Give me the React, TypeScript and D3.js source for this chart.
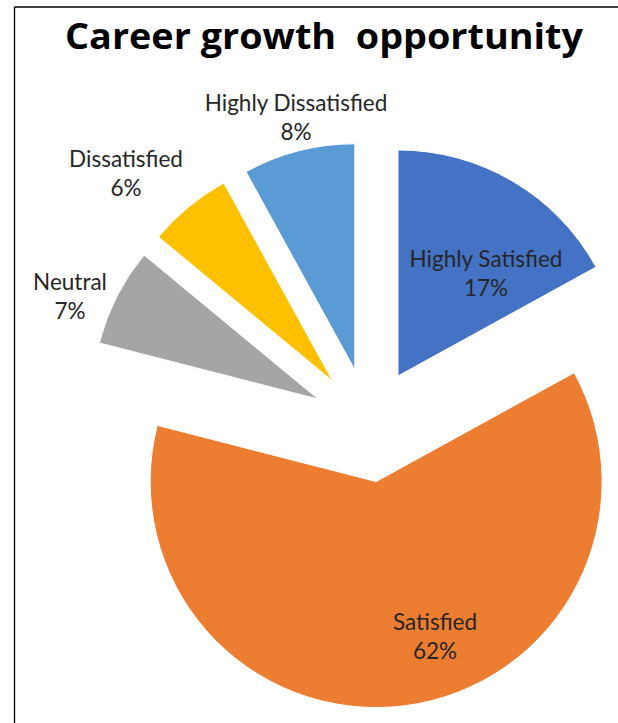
import React from "react";
import * as d3 from "d3";

const categories = ["Highly Satisfied", "Satisfied", "Neutral", "Dissatisfied", "Highly Dissatisfied"];
const values = [17, 62, 7, 6, 8];
const colors = ["#4472C4", "#ED7D31", "#A5A5A5", "#FFC000", "#5B9BD5"];
const title = "Career growth  opportunity";

// label layout (x center, first-line baseline)
const labelPos: [number, number][] = [
  [486, 267],
  [435, 630],
  [70, 290],
  [126, 167],
  [296, 111],
];

const W = 618;
const H = 723;
const cx = 369;
const cy = 425;
const R = 226;
const explode = 57;

export default function App() {
  const pie = d3.pie<number>().sort(null).value((d) => d);
  const arcs = pie(values);
  const arcGen = d3.arc<d3.PieArcDatum<number>>().innerRadius(0).outerRadius(R);
  const total = d3.sum(values);
  const fmt = (v: number) => `${Math.round((v / total) * 100)}%`;

  return (
    <svg
      width={W}
      height={H}
      style={{ position: "absolute", left: 0, top: 0, background: "#fff" }}
      fontFamily="Lato, 'Open Sans', sans-serif"
    >
      <rect x={0} y={0} width={W} height={H} fill="#fff" />
      <line x1={14.5} y1={7} x2={W} y2={7} stroke="#000" strokeWidth={1.3} />
      <line x1={14.5} y1={7} x2={14.5} y2={H} stroke="#000" strokeWidth={1.3} />
      <text
        x={324}
        y={49}
        textAnchor="middle"
        fontFamily="'Open Sans', Lato, sans-serif"
        fontWeight="bold"
        fontSize={35}
        fill="#000"
        textLength={518}
        lengthAdjust="spacingAndGlyphs"
        style={{ whiteSpace: "pre" }}
      >
        {title}
      </text>
      {arcs.map((a, i) => {
        const mid = (a.startAngle + a.endAngle) / 2;
        const dx = explode * Math.sin(mid);
        const dy = -explode * Math.cos(mid);
        return (
          <path
            key={categories[i]}
            d={arcGen(a) || ""}
            transform={`translate(${cx + dx},${cy + dy})`}
            fill={colors[i]}
            stroke="#fff"
            strokeWidth={1}
          />
        );
      })}
      {arcs.map((a, i) => (
        <text
          key={"l" + i}
          x={labelPos[i][0]}
          y={labelPos[i][1]}
          textAnchor="middle"
          fontSize={22.5}
          fill="#262626"
        >
          <tspan x={labelPos[i][0]} dy={0}>{categories[i]}</tspan>
          <tspan x={labelPos[i][0]} dy={29}>{fmt(a.value)}</tspan>
        </text>
      ))}
    </svg>
  );
}
